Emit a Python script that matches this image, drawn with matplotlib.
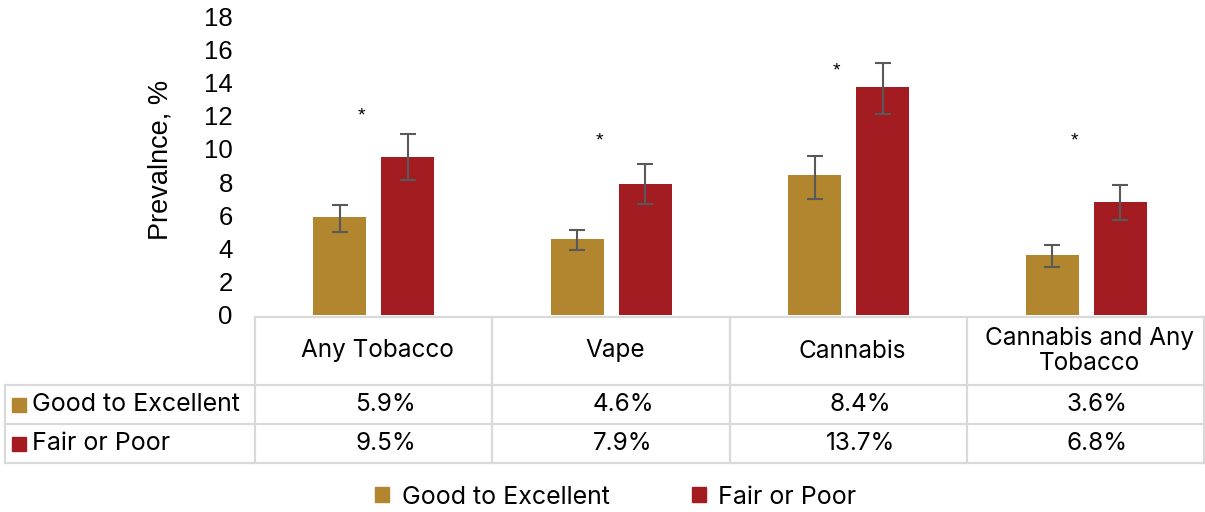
import numpy as np
import matplotlib.pyplot as plt
from matplotlib.patches import Rectangle, Patch

plt.rcParams['font.family'] = ['Inter', 'DejaVu Sans']

categories = ['Any Tobacco', 'Vape', 'Cannabis', 'Cannabis and Any\nTobacco']
series = ['Good to Excellent', 'Fair or Poor']
good = [5.9, 4.6, 8.4, 3.6]
fair = [9.5, 7.9, 13.7, 6.8]
good_lo = [5.0, 3.9, 7.0, 2.9]
good_hi = [6.6, 5.1, 9.6, 4.2]
fair_lo = [8.1, 6.7, 12.1, 5.7]
fair_hi = [10.9, 9.1, 15.2, 7.8]
star_y = [12.0, 10.5, 14.7, 10.5]
yticks = list(range(0, 20, 2))

GOLD = '#B2852F'
RED = '#A31C22'
GRID = '#D9D9D9'
ERR = '#595959'
AXIS_FONT = ['Liberation Sans', 'DejaVu Sans']

W, H = 1205, 512
fig = plt.figure(figsize=(W / 100, H / 100), dpi=100)

# bar chart area
x0, x1, ytop, ybot = 255, 1205, 16, 315
ax = fig.add_axes([x0 / W, (H - ybot) / H, (x1 - x0) / W, (ybot - ytop) / H])
x = np.arange(len(categories))
bw = 0.223
gap = 0.064
off = (bw + gap) / 2
g_err = [np.array(good) - np.array(good_lo), np.array(good_hi) - np.array(good)]
f_err = [np.array(fair) - np.array(fair_lo), np.array(fair_hi) - np.array(fair)]
ax.bar(x - off, good, bw, color=GOLD, yerr=g_err, capsize=5.5,
       error_kw=dict(ecolor=ERR, elinewidth=1.5, capthick=1.5))
ax.bar(x + off, fair, bw, color=RED, yerr=f_err, capsize=5.5,
       error_kw=dict(ecolor=ERR, elinewidth=1.5, capthick=1.5))
for xi, sy in zip(x, star_y):
    ax.text(xi - 0.05, sy, '*', ha='center', va='center', fontsize=14,
            color='black', family=AXIS_FONT)

ax.set_xlim(-0.5, len(categories) - 0.5)
ax.set_ylim(0, 18)
ax.set_yticks(yticks)
ax.set_yticklabels([str(t) for t in yticks], fontsize=18.5, family=AXIS_FONT)
ax.tick_params(axis='y', length=0, pad=16)
ax.set_xticks([])
for s in ax.spines.values():
    s.set_visible(False)
ax.set_ylabel('Prevalnce, %', fontsize=19.5, family=AXIS_FONT)
ax.yaxis.set_label_coords(-0.086, 0.52)

# data table drawn in pixel coordinates
tab = fig.add_axes([0, 0, 1, 1])
tab.set_xlim(0, W)
tab.set_ylim(H, 0)
tab.axis('off')

cols = [255, 492, 730, 967, 1204]
rows = [317, 385, 424, 463]
lw = 1.6
tab.plot([cols[0], cols[-1]], [rows[0], rows[0]], color=GRID, lw=lw)
for r in rows[1:]:
    tab.plot([5, cols[-1]], [r, r], color=GRID, lw=lw)
for c in cols:
    tab.plot([c, c], [rows[0], rows[-1]], color=GRID, lw=lw)
tab.plot([5, 5], [rows[1], rows[-1]], color=GRID, lw=lw)

for i, cat in enumerate(categories):
    cx = (cols[i] + cols[i + 1]) / 2
    tab.text(cx + 4, (rows[0] + rows[1]) / 2, cat, ha='center', va='center',
             fontsize=17.5, linespacing=1.1)
    tab.text(cx + 12, (rows[1] + rows[2]) / 2, f'{good[i]:.1f}%', ha='center',
             va='center', fontsize=17.5)
    tab.text(cx + 12, (rows[2] + rows[3]) / 2, f'{fair[i]:.1f}%', ha='center',
             va='center', fontsize=17.5)

for j, (name, col) in enumerate(zip(series, [GOLD, RED])):
    cy = (rows[j + 1] + rows[j + 2]) / 2
    tab.add_patch(Rectangle((12, cy - 7), 14, 14, color=col))
    tab.text(32, cy, name, ha='left', va='center', fontsize=18)

handles = [Patch(color=GOLD), Patch(color=RED)]
fig.legend(handles, series, loc='center', bbox_to_anchor=(0.511, 0.029), ncol=2,
           frameon=False, fontsize=18, handlelength=0.55, handleheight=0.55,
           handletextpad=0.5, columnspacing=3.3)

fig.savefig('out.png', dpi=100)
